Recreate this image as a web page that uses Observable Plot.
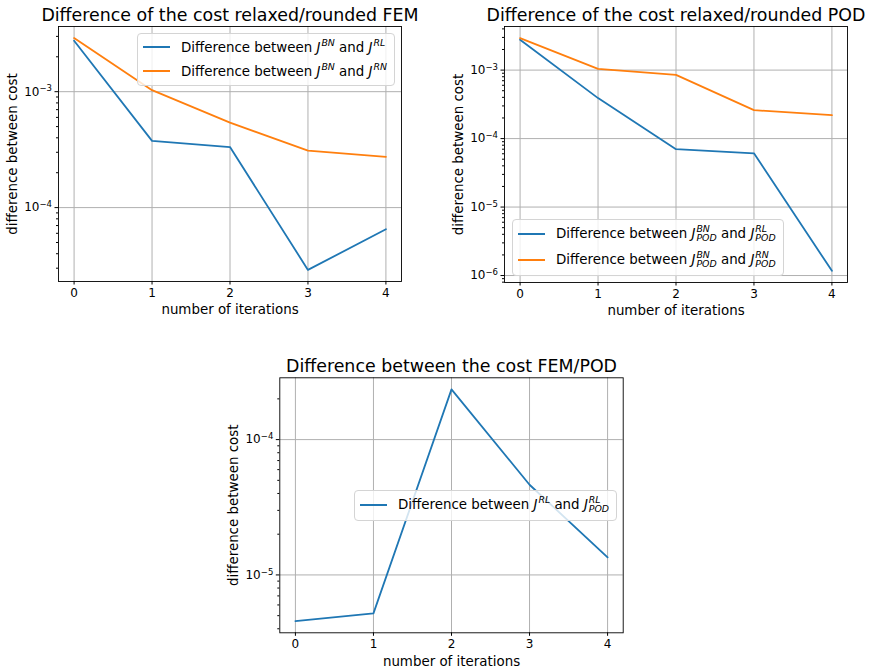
<!DOCTYPE html>
<html>
<head>
<meta charset="utf-8">
<script src="https://cdn.jsdelivr.net/npm/d3@7"></script>
<script src="https://cdn.jsdelivr.net/npm/@observablehq/plot@0.6"></script>
<style>
  html, body { margin: 0; padding: 0; background: #fff; }
  #wrap { position: relative; width: 872px; height: 669px; overflow: hidden; font-family: "DejaVu Sans", sans-serif; }
  .panel { position: absolute; }
  .panel svg { overflow: visible; }
  .leg { position: absolute; background: rgba(255,255,255,0.8); border: 1px solid #d4d4d4; border-radius: 4px;
         padding: 1px 7px 2px 5px; font: 13.4px "DejaVu Sans", sans-serif; color: #000; }
  .row { display: flex; align-items: center; white-space: nowrap; }
  .h { display: inline-block; width: 27px; height: 2px; margin-right: 11px; flex: none; }
  .J { font-style: italic; }
  .sup { font-size: 0.7em; font-style: italic; position: relative; top: -0.6em; margin-left: 1px; }
  .ss { display: inline-flex; flex-direction: column; font-size: 0.7em; font-style: italic; line-height: 0.95;
        vertical-align: 5.5px; margin-left: 1px; }
</style>
</head>
<body>
<div id="wrap"></div>
<script>
// ---------- data ----------
const iterations = [0, 1, 2, 3, 4];
const femRL  = [2.75e-3, 3.76e-4, 3.33e-4, 2.9e-5, 6.5e-5];
const femRN  = [2.9e-3, 1.03e-3, 5.4e-4, 3.1e-4, 2.74e-4];
const podRL  = [2.77e-3, 3.9e-4, 7.0e-5, 6.1e-5, 1.17e-6];
const podRN  = [2.93e-3, 1.04e-3, 8.5e-4, 2.6e-4, 2.2e-4];
const femPod = [4.55e-6, 5.2e-6, 2.35e-4, 4.64e-5, 1.35e-5];

const xTicks = [0, 1, 2, 3, 4];
const yTicksFem = [1e-4, 1e-3];
const yTicksPod = [1e-6, 1e-5, 1e-4, 1e-3];
const yTicksFemPod = [1e-5, 1e-4];

const titles = [
  "Difference of the cost relaxed/rounded FEM",
  "Difference of the cost relaxed/rounded POD",
  "Difference between the cost FEM/POD"
];
const xLabel = "number of iterations";
const yLabel = "difference between cost";

const C0 = "#1f77b4", C1 = "#ff7f0e";

// ---------- helpers ----------
const fmtPow = v => "10^" + Math.round(Math.log10(v));

function logDomain(values) {
  const l0 = Math.log10(d3.min(values)), l1 = Math.log10(d3.max(values));
  const m = (l1 - l0) * 0.05;
  return [Math.pow(10, l0 - m), Math.pow(10, l1 + m)];
}
function minorTicks([lo, hi]) {
  const out = [];
  for (let e = Math.floor(Math.log10(lo)); e <= Math.ceil(Math.log10(hi)); e++)
    for (let k = 2; k <= 9; k++) { const v = k * Math.pow(10, e); if (v >= lo && v <= hi) out.push(v); }
  return out;
}
const xPad = (d3.max(iterations) - d3.min(iterations)) * 0.05;

function panel({left, top, width, height, margin, series, yTicks, title}) {
  const all = series.flatMap(s => s.values);
  const ydom = logDomain(all);
  const marks = [
    Plot.gridX(xTicks, {stroke: "#b0b0b0", strokeOpacity: 1, strokeWidth: 1}),
    Plot.gridY(yTicks, {stroke: "#b0b0b0", strokeOpacity: 1, strokeWidth: 1}),
    ...series.map(s => Plot.line(iterations.map((it, i) => ({it, v: s.values[i]})),
        {x: "it", y: "v", stroke: s.color, strokeWidth: 1.8})),
    Plot.frame({stroke: "#000", strokeWidth: 0.9}),
    Plot.axisX({ticks: xTicks, tickSize: 3.5, tickPadding: 3.5, fontSize: 12, label: null, tickFormat: d => String(d)}),
    Plot.axisY({ticks: minorTicks(ydom), tickSize: 2, tickFormat: () => "", label: null}),
    Plot.axisY({ticks: yTicks, tickSize: 3.5, tickPadding: 3, fontSize: 12, label: null, tickFormat: fmtPow}),
    Plot.text([title], {frameAnchor: "top", lineAnchor: "middle", textAnchor: "middle", dy: -11, fontSize: 17.4, fill: "#000"}),
    Plot.text([xLabel], {frameAnchor: "bottom", lineAnchor: "middle", textAnchor: "middle", dy: 28.5, fontSize: 13.4, fill: "#000"}),
    Plot.text([yLabel], {frameAnchor: "left", lineAnchor: "middle", textAnchor: "middle", dx: -46, rotate: -90, fontSize: 13.4, fill: "#000"})
  ];
  const svg = Plot.plot({
    width, height,
    marginLeft: margin[0], marginRight: margin[1], marginTop: margin[2], marginBottom: margin[3],
    style: {fontFamily: "DejaVu Sans, sans-serif", fontSize: "12px", color: "#000", background: "transparent"},
    x: {domain: [d3.min(iterations) - xPad, d3.max(iterations) + xPad]},
    y: {type: "log", domain: ydom},
    marks
  });
  // render "10^-3" tick labels as 10 with a raised exponent
  svg.querySelectorAll("text").forEach(t => {
    const s = t.textContent;
    const m = /^10\^(-?\d+)$/.exec(s);
    if (!m) return;
    t.textContent = "10";
    const ts = document.createElementNS("http://www.w3.org/2000/svg", "tspan");
    ts.setAttribute("font-size", "8.5");
    ts.setAttribute("dy", "-0.5em");
    ts.textContent = m[1].replace("-", "\u2212");
    t.appendChild(ts);
  });
  const div = document.createElement("div");
  div.className = "panel";
  div.style.left = left + "px"; div.style.top = top + "px";
  div.appendChild(svg);
  document.getElementById("wrap").appendChild(div);
}

const J = (sup, sub) => sub
  ? `<span class="J">J</span><span class="ss"><span>${sup}</span><span>${sub}</span></span>`
  : `<span class="J">J</span><span class="sup">${sup}</span>`;

function legend({left, top, rowH, entries}) {
  const div = document.createElement("div");
  div.className = "leg";
  div.style.left = left + "px"; div.style.top = top + "px";
  div.innerHTML = entries.map(e =>
    `<div class="row" style="height:${rowH}px"><span class="h" style="background:${e.color}"></span><span>${e.html}</span></div>`
  ).join("");
  document.getElementById("wrap").appendChild(div);
}

// ---------- panels ----------
panel({left: 0, top: 0, width: 430, height: 330, margin: [58, 29, 26, 49],
  series: [{values: femRL, color: C0}, {values: femRN, color: C1}], yTicks: yTicksFem, title: titles[0]});
panel({left: 430, top: 0, width: 442, height: 330, margin: [74, 25, 26, 48],
  series: [{values: podRL, color: C0}, {values: podRN, color: C1}], yTicks: yTicksPod, title: titles[1]});
panel({left: 210, top: 340, width: 430, height: 329, margin: [69.3, 17.3, 37.3, 36.7],
  series: [{values: femPod, color: C0}], yTicks: yTicksFemPod, title: titles[2]});

legend({left: 137, top: 33, rowH: 24, entries: [
  {color: C0, html: `Difference between ${J("BN")} and ${J("RL")}`},
  {color: C1, html: `Difference between ${J("BN")} and ${J("RN")}`}
]});
legend({left: 512, top: 219, rowH: 26, entries: [
  {color: C0, html: `Difference between ${J("BN", "POD")} and ${J("RL", "POD")}`},
  {color: C1, html: `Difference between ${J("BN", "POD")} and ${J("RN", "POD")}`}
]});
legend({left: 354, top: 490, rowH: 26, entries: [
  {color: C0, html: `Difference between ${J("RL")} and ${J("RL", "POD")}`}
]});
</script>
</body>
</html>
